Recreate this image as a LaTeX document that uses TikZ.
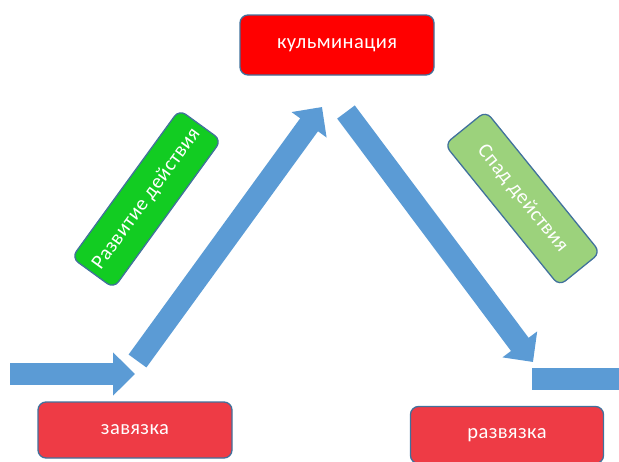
\documentclass[tikz,border=0pt]{standalone}
\usepackage{fontspec}
\setmainfont{Carlito}[LetterSpace=2]
\usetikzlibrary{arrows.meta}
\definecolor{arrowblue}{HTML}{5B9BD5}
\definecolor{edgeblue}{HTML}{41719C}
\definecolor{topred}{HTML}{FF0000}
\definecolor{boxred}{HTML}{EE3B45}
\definecolor{brightgreen}{HTML}{12CC22}
\definecolor{softgreen}{HTML}{9CD27C}
\tikzset{
  stagebox/.style={draw=edgeblue, line width=1.3pt, rounded corners=8pt, text=white,
    font=\fontsize{20.5}{24}\selectfont, inner sep=0pt, align=center},
  blockarrow/.style={draw=arrowblue, line width=22pt,
    -{Triangle[width=42pt,length=22pt]}, arrowblue},
  blockbar/.style={draw=arrowblue, line width=22pt}
}
\begin{document}
\begin{tikzpicture}[x=1pt,y=-1pt]
\useasboundingbox (0,0) rectangle (619,461);
\begin{scope}
\clip (0,0) rectangle (619,461);
% boxes
\node[stagebox, fill=topred, minimum width=194pt, minimum height=60pt] (kulm) at (337,45) {кульминация};
\node[stagebox, fill=boxred, minimum width=194pt, minimum height=56pt] (zav) at (135,430) {завязка};
\node[stagebox, fill=boxred, minimum width=193pt, minimum height=57pt] (razv) at (507,435) {развязка};
\node[stagebox, fill=brightgreen, minimum width=183pt, minimum height=52pt, rotate=54] (rise) at (146.5,199) {Развитие действия};
\node[stagebox, fill=softgreen, minimum width=182pt, minimum height=53pt, rotate=-51] (fall) at (522.5,198.5) {Спад действия};
% arrows
\coordinate (inS) at (10,374);
\coordinate (inE) at (135,374);
\coordinate (upS) at (137.5,361);
\coordinate (upE) at (322,107);
\coordinate (dnS) at (346,112);
\coordinate (dnE) at (533,362);
\coordinate (outS) at (532,379);
\coordinate (outE) at (625,379);
\draw[blockarrow] (inS) -- (inE);
\draw[blockarrow] (upS) -- (upE);
\draw[blockarrow] (dnS) -- (dnE);
\draw[blockbar] (outS) -- (outE);
\end{scope}
\end{tikzpicture}
\end{document}
